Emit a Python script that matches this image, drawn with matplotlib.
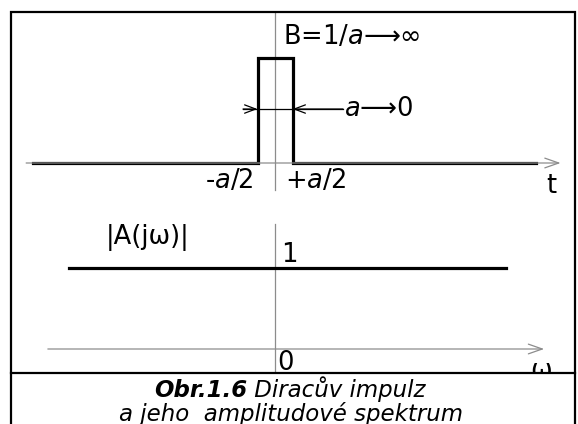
import matplotlib
matplotlib.use("Agg")
import matplotlib.pyplot as plt
from matplotlib.patches import Rectangle
from matplotlib.lines import Line2D

plt.rcParams["font.family"] = ["DejaVu Sans"]
plt.rcParams["mathtext.fontset"] = "dejavusans"

# pulse x(t), a = 1, height B = 1/a (drawn as 1)
t_pts = [-6.91, -0.5, -0.5, 0.5, 0.5, 7.46]
x_pts = [0, 0, 1, 1, 0, 0]
t_axis = [-7.11, 8.16]
width_arrow = [-0.914, 1.943]
# spectrum |A(jw)| = 1
w_pts = [-5.89, 6.6]
A_pts = [1, 1]
w_axis = [-6.49, 7.69]

W, H = 578, 424
INK = "black"
AXC = "#8c8c8c"
FS = 18.5

fig = plt.figure(figsize=(W / 100, H / 100), dpi=100)


def px_axes(top, bottom):
    return fig.add_axes([0, 1 - bottom / H, 1, (bottom - top) / H])


def axis_arrow(ax, xs):
    ax.annotate("", xy=(xs[1], 0), xytext=(xs[0], 0),
                arrowprops=dict(arrowstyle="->,head_length=1.0,head_width=0.35",
                                color=AXC, lw=0.9, shrinkA=0, shrinkB=0))


# ---- top panel: pulse (0 at y=163 px, 1 at y=58 px) ----
ax = px_axes(0, 205)
ax.set_xlim(-275 / 35, (W - 275) / 35)
ax.set_ylim((163 - 205) / 105, 163 / 105)
ax.axis("off")
axis_arrow(ax, t_axis)
ax.plot([0, 0], [-0.257, 1.43], color=AXC, lw=0.9)
ax.plot(t_pts, x_pts, color=INK, lw=2.3, solid_joinstyle="miter")
ax.plot(width_arrow, [0.514, 0.514], color=INK, lw=0.9)
for x0, x1 in [(width_arrow[0], -0.5), (width_arrow[1], 0.5)]:
    ax.annotate("", xy=(x1, 0.514), xytext=(x0, 0.514),
                arrowprops=dict(arrowstyle="->,head_length=0.8,head_width=0.3",
                                color=INK, lw=0.9, shrinkA=0, shrinkB=0))
ax.text(0.22, 1.2, "B=1/$\\mathit{a}$\u27f6\u221e", fontsize=FS, va="center")
ax.text(1.98, 0.514, "$\\mathit{a}$\u27f60", fontsize=FS, va="center")
ax.text(-1.31, -0.17, "-$\\mathit{a}$/2", fontsize=FS, va="center", ha="center")
ax.text(1.17, -0.17, "+$\\mathit{a}$/2", fontsize=FS, va="center", ha="center")
ax.text(7.75, -0.22, "t", fontsize=FS, va="center")

# ---- bottom panel: spectrum (0 at y=349 px, 1 at y=268 px) ----
bx = px_axes(205, 373)
bx.set_xlim(-275 / 35, (W - 275) / 35)
bx.set_ylim((349 - 373) / 81, (349 - 205) / 81)
bx.axis("off")
axis_arrow(bx, w_axis)
bx.plot([0, 0], [-0.4, 1.54], color=AXC, lw=0.9)
bx.plot(w_pts, A_pts, color=INK, lw=2.3)
bx.text(-3.63, 1.38, "|A(j\u03c9)|", fontsize=FS, va="center", ha="center")
bx.text(0.17, 1.16, "1", fontsize=FS, va="center")
bx.text(0.06, -0.17, "0", fontsize=FS, va="center", clip_on=True)
bx.text(7.3, -0.27, "\u03c9", fontsize=FS, va="center", clip_on=True)

# ---- frame and caption ----
fig.add_artist(Rectangle((11 / W, -0.05), (575 - 11) / W, 1.05 - 12 / H,
                         transform=fig.transFigure, fill=False,
                         edgecolor=INK, lw=1.6))
fig.add_artist(Line2D([11 / W, 575 / W], [1 - 373 / H, 1 - 373 / H],
                      transform=fig.transFigure, color=INK, lw=1.6))

cap = dict(fontsize=16.5, style="italic", va="baseline")
c1 = fig.text(0, 1 - 397 / H, "Obr.1.6", weight="bold", **cap)
c2 = fig.text(0, 1 - 397 / H, " Diracův impulz", **cap)
r = fig.canvas.get_renderer()
w1 = c1.get_window_extent(r).width
w2 = c2.get_window_extent(r).width
x0 = 290 - (w1 + w2) / 2
c1.set_x(x0 / W)
c2.set_x((x0 + w1) / W)
fig.text(291 / W, 1 - 421 / H, "a jeho  amplitudové spektrum", ha="center", **cap)

fig.savefig("out.png", dpi=100)
